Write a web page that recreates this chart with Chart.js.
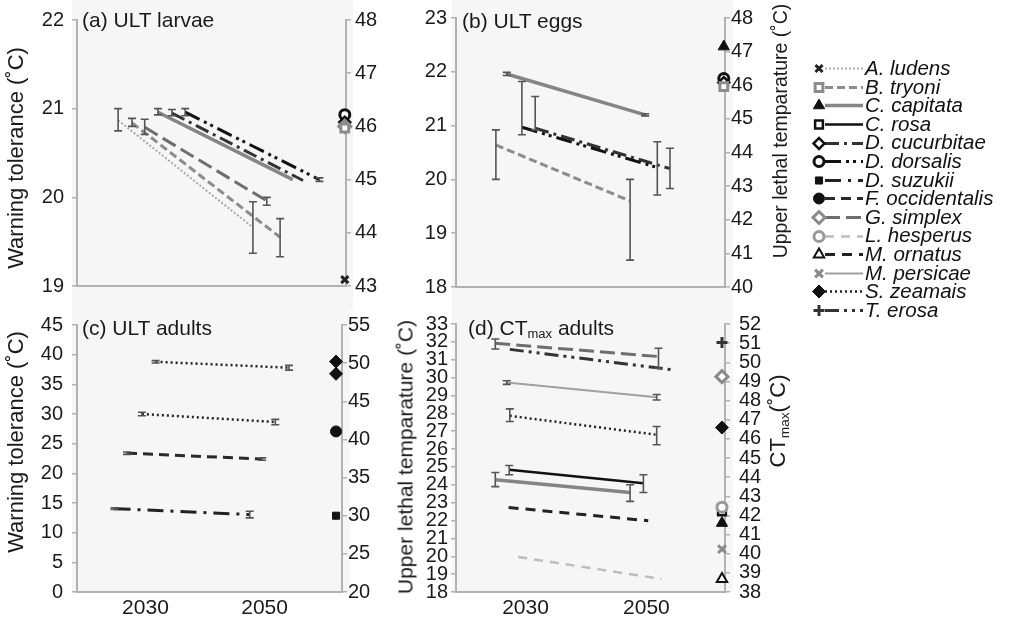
<!DOCTYPE html>
<html><head><meta charset="utf-8">
<script src="https://cdn.jsdelivr.net/npm/chart.js@4.4.1/dist/chart.umd.min.js"></script>
<style>
html,body{margin:0;padding:0;background:#fff;}
#wrap{position:relative;width:1009px;height:621px;overflow:hidden;font-family:"Liberation Sans",Arial,Helvetica,sans-serif;color:#1a1a1a;}
canvas.panel{position:absolute;left:0;top:0;}
.vt{position:absolute;white-space:nowrap;transform:translate(-50%,-50%) rotate(-90deg);line-height:1;}
.pl{position:absolute;white-space:nowrap;line-height:1;transform:translateY(-50%);font-size:21px;}
sub{font-size:0.62em;vertical-align:-0.3em;line-height:0;}
#legend{position:absolute;left:807px;top:59px;}
.row{display:flex;align-items:center;height:18.6px;}
.row canvas{display:block;}
.row span{font-style:italic;font-size:20.5px;line-height:1;color:#111;}
</style></head><body><div id="wrap">
<canvas id="pa" class="panel" width="1009" height="621"></canvas>
<canvas id="pb" class="panel" width="1009" height="621"></canvas>
<canvas id="pc" class="panel" width="1009" height="621"></canvas>
<canvas id="pd" class="panel" width="1009" height="621"></canvas>
<div class="pl" style="left:82px;top:19px;">(a) ULT larvae</div>
<div class="pl" style="left:462px;top:20px;">(b) ULT eggs</div>
<div class="pl" style="left:82px;top:327px;">(c) ULT adults</div>
<div class="pl" style="left:468px;top:327px;">(d) CT<sub>max</sub> adults</div>
<div class="vt" style="left:16px;top:158px;font-size:22px;">Warning tolerance (˚C)</div>
<div class="vt" style="left:781px;top:131px;font-size:19.5px;">Upper lethal temparature (˚C)</div>
<div class="vt" style="left:16px;top:442px;font-size:22px;">Warning tolerance (˚C)</div>
<div class="vt" style="left:405px;top:457px;font-size:21px;">Upper lethal temparature (˚C)</div>
<div class="vt" style="left:778px;top:421px;font-size:22px;">CT<sub>max</sub>(˚C)</div>
<div id="legend"></div>
</div>
<script>
// ---------- shared axis data ----------
const X_MIN = 2018.5, X_MAX = 2063;
const X_TICKS = [2030, 2050];

// ---------- (a) ULT larvae ----------
const A_series = ['C. capitata','D. cucurbitae','D. dorsalis','A. ludens','B. tryoni','G. simplex'];
const A_x0 = [2031.9, 2034.2, 2036.4, 2025.3, 2027.6, 2029.7];
const A_y0 = [20.96, 20.95, 20.96, 20.87, 20.84, 20.79];
const A_x1 = [2054.2, 2055.9, 2058.6, 2047.6, 2052.1, 2049.9];
const A_y1 = [20.20, 20.19, 20.20, 19.66, 19.55, 19.96];
const A_lo0 = [20.93, 20.92, 20.92, 20.75, 20.80, 20.71];
const A_hi0 = [21.00, 20.99, 21.00, 21.00, 20.89, 20.88];
const A_lo1 = [null, null, 20.18, 19.37, 19.33, 19.91];
const A_hi1 = [null, null, 20.22, 19.95, 19.76, 20.00];
const A_markSpecies = ['B. tryoni','G. simplex','D. cucurbitae','D. dorsalis','A. ludens'];
const A_markValues = [45.97, 46.00, 46.08, 46.22, 43.12];
const A_yTicks = [19, 20, 21, 22];
const A_y2Ticks = [43, 44, 45, 46, 47, 48];

// ---------- (b) ULT eggs ----------
const B_series = ['C. capitata','B. tryoni','D. dorsalis','D. cucurbitae'];
const B_x0 = [2026.9, 2025.1, 2029.4, 2031.6];
const B_y0 = [21.96, 20.64, 20.97, 20.95];
const B_x1 = [2049.8, 2047.3, 2051.8, 2053.9];
const B_y1 = [21.20, 19.60, 20.22, 20.20];
const B_lo0 = [21.93, 20.00, 20.83, 20.92];
const B_hi0 = [21.99, 20.92, 21.82, 21.54];
const B_lo1 = [21.18, 18.50, 19.71, 19.83];
const B_hi1 = [21.22, 20.00, 20.70, 20.58];
const B_markSpecies = ['B. tryoni','D. cucurbitae','D. dorsalis','C. capitata'];
const B_markValues = [45.96, 46.08, 46.20, 47.15];
const B_yTicks = [18, 19, 20, 21, 22, 23];
const B_y2Ticks = [40, 41, 42, 43, 44, 45, 46, 47, 48];

// ---------- (c) ULT adults ----------
const C_series = ['S. zeamais','S. zeamais','F. occidentalis','D. suzukii'];
const C_x0 = [2031.7, 2029.4, 2026.9, 2024.8];
const C_y0 = [38.80, 30.00, 23.40, 14.05];
const C_x1 = [2054.1, 2051.8, 2049.6, 2047.5];
const C_y1 = [37.80, 28.65, 22.40, 13.05];
const C_lo0 = [38.60, 29.70, 23.20, 13.90];
const C_hi0 = [39.00, 30.30, 23.60, 14.20];
const C_lo1 = [37.40, 28.20, 22.20, 12.50];
const C_hi1 = [38.20, 29.10, 22.60, 13.60];
const C_markSpecies = ['S. zeamais','S. zeamais','F. occidentalis','D. suzukii'];
const C_markValues = [50.2, 48.6, 41.05, 30.0];
const C_yTicks = [0, 5, 10, 15, 20, 25, 30, 35, 40, 45];
const C_y2Ticks = [20, 25, 30, 35, 40, 45, 50, 55];

// ---------- (d) CTmax adults ----------
const D_series = ['G. simplex','T. erosa','M. persicae','S. zeamais','C. rosa','C. capitata','M. ornatus','L. hesperus'];
const D_x0 = [2025.0, 2027.4, 2026.9, 2027.4, 2027.3, 2025.0, 2027.2, 2028.8];
const D_y0 = [31.92, 31.58, 29.72, 27.86, 24.84, 24.28, 22.73, 19.96];
const D_x1 = [2052.0, 2054.0, 2051.7, 2051.7, 2049.5, 2047.3, 2050.3, 2052.5];
const D_y1 = [31.18, 30.45, 28.90, 26.80, 24.09, 23.57, 21.99, 18.73];
const D_lo0 = [31.60, null, 29.62, 27.54, 24.56, 23.90, null, null];
const D_hi0 = [32.16, null, 29.82, 28.25, 25.08, 24.69, null, null];
const D_lo1 = [30.52, null, 28.75, 26.24, 23.57, 23.07, null, null];
const D_hi1 = [31.64, null, 29.05, 27.26, 24.56, 24.00, null, null];
const D_markSpecies = ['T. erosa','G. simplex','S. zeamais','L. hesperus','C. rosa','C. capitata','M. persicae','M. ornatus'];
const D_markValues = [51.03, 49.25, 46.59, 42.43, 42.21, 41.60, 40.24, 38.68];
const D_yTicks = [18,19,20,21,22,23,24,25,26,27,28,29,30,31,32,33];
const D_y2Ticks = [38,39,40,41,42,43,44,45,46,47,48,49,50,51,52];

// ---------- legend ----------
const LEGEND_SPECIES = ['A. ludens','B. tryoni','C. capitata','C. rosa','D. cucurbitae','D. dorsalis','D. suzukii','F. occidentalis','G. simplex','L. hesperus','M. ornatus','M. persicae','S. zeamais','T. erosa'];

// ---------- styles (per species) ----------
const STYLE = {
  'A. ludens':      {line:'#a9a9a9', w:2,   dash:[2,2],           mk:'crossRot', mc:'#222', fill:false, mw:3,   mr:5},
  'B. tryoni':      {line:'#8c8c8c', w:3,   dash:[8,4],           mk:'rect',     mc:'#8c8c8c', fill:false, mw:3, mr:5.5},
  'C. capitata':    {line:'#858585', w:3.5, dash:[],              mk:'triangle', mc:'#111', fill:true,  mw:1,   mr:6.5},
  'C. rosa':        {line:'#111',    w:2.5, dash:[],              mk:'rect',     mc:'#111', fill:false, mw:2.5, mr:5.5},
  'D. cucurbitae':  {line:'#333',    w:3,   dash:[14,5,3,5],      mk:'rectRot',  mc:'#111', fill:false, mw:2.5, mr:5.5},
  'D. dorsalis':    {line:'#111',    w:3,   dash:[16,5,3,4,3,5],  mk:'circle',   mc:'#111', fill:false, mw:3,   mr:5},
  'D. suzukii':     {line:'#222',    w:3,   dash:[16,7,3,7],      mk:'rect',     mc:'#111', fill:true,  mw:1,   mr:5},
  'F. occidentalis':{line:'#2a2a2a', w:3,   dash:[10,6],          mk:'circle',   mc:'#111', fill:true,  mw:1,   mr:5.5},
  'G. simplex':     {line:'#6e6e6e', w:3,   dash:[15,6],          mk:'rectRot',  mc:'#8a8a8a', fill:false, mw:3, mr:6},
  'L. hesperus':    {line:'#bdbdbd', w:2.5, dash:[9,7],           mk:'circle',   mc:'#999', fill:false, mw:3,   mr:5},
  'M. ornatus':     {line:'#222',    w:3,   dash:[10,7],          mk:'triangle', mc:'#111', fill:false, mw:2,   mr:6},
  'M. persicae':    {line:'#a0a0a0', w:2,   dash:[],              mk:'crossRot', mc:'#8a8a8a', fill:false, mw:3, mr:5.5},
  'S. zeamais':     {line:'#222',    w:2.5, dash:[2,3],           mk:'rectRot',  mc:'#111', fill:true,  mw:1,   mr:6.5},
  'T. erosa':       {line:'#333',    w:3,   dash:[14,5,3,5,3,5],  mk:'cross',    mc:'#333', fill:false, mw:3,   mr:5.5}
};

const FONT = '"Liberation Sans", Arial, Helvetica, sans-serif';
const AXIS = '#b2b2b2';
const TXT = '#1a1a1a';

const bgPlugin = {
  id: 'panelBg',
  beforeDraw(chart, args, o) {
    const ctx = chart.ctx;
    ctx.save(); ctx.fillStyle = o.color; ctx.fillRect(o.x, o.y, o.w, o.h); ctx.restore();
  }
};
const errPlugin = {
  id: 'errBars',
  afterDatasetsDraw(chart, args, o) {
    const ctx = chart.ctx, xs = chart.scales.x, ys = chart.scales.y;
    ctx.save(); ctx.strokeStyle = o.color; ctx.lineWidth = o.width; ctx.setLineDash([]);
    chart.data.datasets.forEach(ds => {
      if (!ds.errLo) return;
      ds.data.forEach((pt, j) => {
        const lo = ds.errLo[j], hi = ds.errHi[j];
        if (lo == null || hi == null) return;
        const px = xs.getPixelForValue(pt.x), pl = ys.getPixelForValue(lo), ph = ys.getPixelForValue(hi);
        ctx.beginPath();
        ctx.moveTo(px, pl); ctx.lineTo(px, ph);
        ctx.moveTo(px - o.cap, pl); ctx.lineTo(px + o.cap, pl);
        ctx.moveTo(px - o.cap, ph); ctx.lineTo(px + o.cap, ph);
        ctx.stroke();
      });
    });
    ctx.restore();
  }
};

function yAxis(pos, ticksArr, pad) {
  return {
    position: pos, type: 'linear',
    min: ticksArr[0], max: ticksArr[ticksArr.length - 1],
    afterBuildTicks: s => { s.ticks = ticksArr.map(v => ({value: v})); },
    afterFit: s => { s.width = 60; },
    ticks: {autoSkip: false, font: {size: 20, family: FONT}, color: TXT, padding: pad, callback: v => String(v)},
    grid: {drawOnChartArea: false, drawTicks: true, tickLength: 5, color: AXIS, lineWidth: 1.5},
    border: {color: AXIS, width: 2}
  };
}

function panel(id, L, series, x0, y0, x1, y1, lo0, hi0, lo1, hi1, markSp, markVal, yT, y2T) {
  const datasets = [];
  series.forEach((sp, i) => {
    const st = STYLE[sp];
    datasets.push({
      type: 'line', label: sp, yAxisID: 'y',
      data: [{x: x0[i], y: y0[i]}, {x: x1[i], y: y1[i]}],
      borderColor: st.line, borderWidth: st.w, borderDash: st.dash, borderCapStyle: 'butt',
      pointRadius: 0, pointHoverRadius: 0, fill: false, tension: 0,
      errLo: [lo0[i], lo1[i]], errHi: [hi0[i], hi1[i]]
    });
  });
  markSp.forEach((sp, i) => {
    const st = STYLE[sp];
    datasets.push({
      type: 'line', label: sp + ' (ULT)', yAxisID: 'y2', showLine: false,
      data: [{x: L.markX, y: markVal[i]}],
      pointStyle: st.mk, pointRadius: st.mr, pointBorderWidth: st.mw,
      pointBorderColor: st.mc, pointBackgroundColor: st.fill ? st.mc : '#fff',
      clip: false
    });
  });
  return new Chart(document.getElementById(id), {
    data: {datasets},
    options: {
      responsive: false, animation: false, events: [],
      layout: {padding: {left: L.l - 60, right: 1009 - L.r - 60, top: L.t, bottom: 621 - L.b - 30}},
      plugins: {
        legend: {display: false}, tooltip: {enabled: false},
        panelBg: L.bg,
        errBars: {color: '#555', width: 1.6, cap: 4}
      },
      scales: {
        x: {
          type: 'linear', min: X_MIN, max: X_MAX,
          afterBuildTicks: s => { s.ticks = X_TICKS.map(v => ({value: v})); },
          afterFit: s => { s.height = 30; },
          grid: {display: false, drawTicks: false, tickLength: 0},
          border: {color: AXIS, width: 2},
          ticks: {display: L.showX, callback: v => String(v), font: {size: 21, family: FONT}, color: TXT, padding: 4, maxRotation: 0, autoSkip: false}
        },
        y: yAxis('left', yT, L.padL),
        y2: yAxis('right', y2T, L.padR)
      }
    },
    plugins: [bgPlugin, errPlugin]
  });
}

panel('pa', {l:77, r:346, t:19, b:286, markX:2062.8, showX:false, padL:8, padR:4,
  bg:{color:'#f6f6f6', x:72, y:0, w:281, h:310}},
  A_series, A_x0, A_y0, A_x1, A_y1, A_lo0, A_hi0, A_lo1, A_hi1, A_markSpecies, A_markValues, A_yTicks, A_y2Ticks);
panel('pb', {l:456, r:725, t:18, b:287, markX:2062.8, showX:false, padL:4, padR:1,
  bg:{color:'#f6f6f6', x:452, y:0, w:281, h:310}},
  B_series, B_x0, B_y0, B_x1, B_y1, B_lo0, B_hi0, B_lo1, B_hi1, B_markSpecies, B_markValues, B_yTicks, B_y2Ticks);
panel('pc', {l:77, r:342, t:325, b:592, markX:2062, showX:true, padL:9, padR:1,
  bg:{color:'#f6f6f6', x:72, y:310, w:278, h:282}},
  C_series, C_x0, C_y0, C_x1, C_y1, C_lo0, C_hi0, C_lo1, C_hi1, C_markSpecies, C_markValues, C_yTicks, C_y2Ticks);
panel('pd', {l:456, r:725, t:324, b:592, markX:2062.5, showX:true, padL:3, padR:9,
  bg:{color:'#f6f6f6', x:452, y:310, w:281, h:282}},
  D_series, D_x0, D_y0, D_x1, D_y1, D_lo0, D_hi0, D_lo1, D_hi1, D_markSpecies, D_markValues, D_yTicks, D_y2Ticks);

// ---------- legend (HTML text + icons drawn with Chart.js point helper) ----------
const legendEl = document.getElementById('legend');
LEGEND_SPECIES.forEach(sp => {
  const st = STYLE[sp];
  const row = document.createElement('div'); row.className = 'row';
  const cv = document.createElement('canvas'); cv.width = 58; cv.height = 18;
  const ctx = cv.getContext('2d');
  ctx.strokeStyle = st.line; ctx.lineWidth = st.w; ctx.setLineDash(st.dash); ctx.lineCap = 'butt';
  ctx.beginPath(); ctx.moveTo(18, 9.5); ctx.lineTo(56, 9.5); ctx.stroke();
  ctx.setLineDash([]);
  ctx.fillStyle = st.fill ? st.mc : '#fff'; ctx.strokeStyle = st.mc; ctx.lineWidth = st.mw;
  if (Chart.helpers && Chart.helpers.drawPoint) {
    Chart.helpers.drawPoint(ctx, {pointStyle: st.mk, radius: st.mr, rotation: 0, borderWidth: st.mw}, 12, 9.5);
  } else {
    ctx.beginPath(); ctx.arc(12, 9.5, st.mr, 0, Math.PI * 2); ctx.fill(); ctx.stroke();
  }
  const sp2 = document.createElement('span'); sp2.textContent = sp;
  row.appendChild(cv); row.appendChild(sp2); legendEl.appendChild(row);
});
</script>
</body></html>
